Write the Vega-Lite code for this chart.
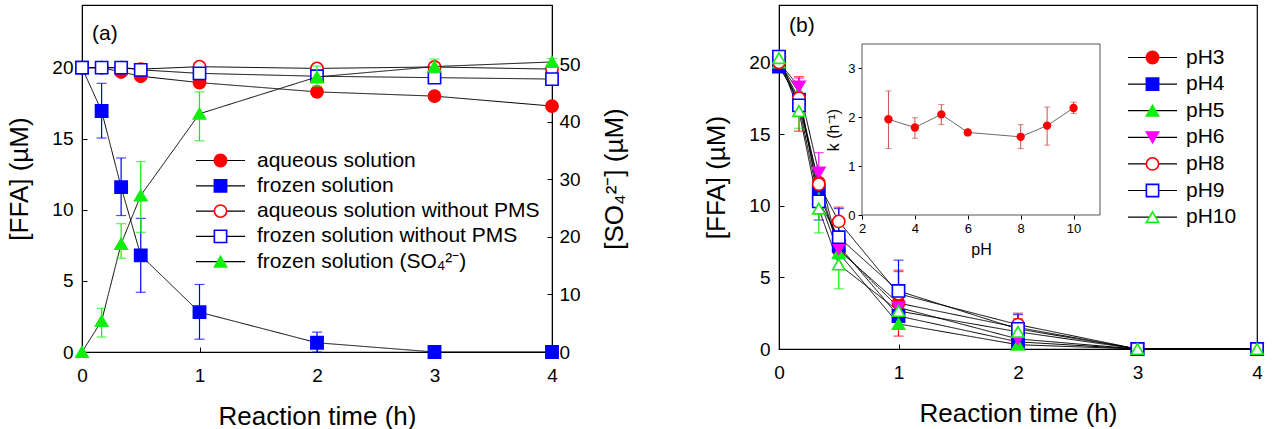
{
  "$schema": "https://vega.github.io/schema/vega-lite/v6.json",
  "background": "white",
  "padding": {"left": 6, "top": 4, "right": 5, "bottom": 5},
  "autosize": {"type": "pad"},
  "config": {
    "font": "Liberation Sans",
    "view": {"stroke": "black", "strokeWidth": 1.2},
    "axis": {"grid": false, "domainColor": "black", "tickColor": "black", "labelColor": "black", "titleColor": "black", "labelFontSize": 19, "titleFontSize": 26, "titleFontWeight": "normal", "tickSize": -5, "labelPadding": 14, "titlePadding": 19, "labelFlush": false},
    "axisX": {"labelPadding": 19, "titlePadding": 18},
    "title": {"fontWeight": "normal", "fontSize": 21, "color": "black"},
    "legend": {"labelFont": "Liberation Sans", "labelColor": "black", "symbolOpacity": 1}
  },
  "datasets": {
    "a_ffa": [
      {"s": "aqueous solution", "o": 1, "t": 0, "y": 20.0},
      {"s": "aqueous solution", "o": 1, "t": 0.167, "y": 20.0},
      {"s": "aqueous solution", "o": 1, "t": 0.333, "y": 19.7},
      {"s": "aqueous solution", "o": 1, "t": 0.5, "y": 19.4},
      {"s": "aqueous solution", "o": 1, "t": 1, "y": 18.95},
      {"s": "aqueous solution", "o": 1, "t": 2, "y": 18.3},
      {"s": "aqueous solution", "o": 1, "t": 3, "y": 18.0},
      {"s": "aqueous solution", "o": 1, "t": 4, "y": 17.3},
      {"s": "frozen solution", "o": 2, "t": 0, "y": 20.0},
      {"s": "frozen solution", "o": 2, "t": 0.167, "y": 16.95, "lo": 15.05, "hi": 18.9},
      {"s": "frozen solution", "o": 2, "t": 0.333, "y": 11.6, "lo": 9.6, "hi": 13.65},
      {"s": "frozen solution", "o": 2, "t": 0.5, "y": 6.8, "lo": 4.2, "hi": 9.4},
      {"s": "frozen solution", "o": 2, "t": 1, "y": 2.8, "lo": 0.9, "hi": 4.75},
      {"s": "frozen solution", "o": 2, "t": 2, "y": 0.65, "lo": 0.0, "hi": 1.4},
      {"s": "frozen solution", "o": 2, "t": 3, "y": 0},
      {"s": "frozen solution", "o": 2, "t": 4, "y": 0},
      {"s": "aqueous solution without PMS", "o": 3, "t": 0, "y": 20.0},
      {"s": "aqueous solution without PMS", "o": 3, "t": 0.167, "y": 20.0},
      {"s": "aqueous solution without PMS", "o": 3, "t": 0.333, "y": 20.0},
      {"s": "aqueous solution without PMS", "o": 3, "t": 0.5, "y": 19.9},
      {"s": "aqueous solution without PMS", "o": 3, "t": 1, "y": 20.07},
      {"s": "aqueous solution without PMS", "o": 3, "t": 2, "y": 19.95},
      {"s": "aqueous solution without PMS", "o": 3, "t": 3, "y": 20.05},
      {"s": "aqueous solution without PMS", "o": 3, "t": 4, "y": 19.9},
      {"s": "frozen solution without PMS", "o": 4, "t": 0, "y": 20.0},
      {"s": "frozen solution without PMS", "o": 4, "t": 0.167, "y": 20.0},
      {"s": "frozen solution without PMS", "o": 4, "t": 0.333, "y": 20.0},
      {"s": "frozen solution without PMS", "o": 4, "t": 0.5, "y": 19.85},
      {"s": "frozen solution without PMS", "o": 4, "t": 1, "y": 19.6},
      {"s": "frozen solution without PMS", "o": 4, "t": 2, "y": 19.4},
      {"s": "frozen solution without PMS", "o": 4, "t": 3, "y": 19.3},
      {"s": "frozen solution without PMS", "o": 4, "t": 4, "y": 19.2}
    ],
    "a_so4": [
      {"s": "frozen solution (SO₄²⁻)", "o": 5, "t": 0, "y": 0},
      {"s": "frozen solution (SO₄²⁻)", "o": 5, "t": 0.167, "y": 5.4, "lo": 2.6, "hi": 7.6},
      {"s": "frozen solution (SO₄²⁻)", "o": 5, "t": 0.333, "y": 18.8, "lo": 16.3, "hi": 22.3},
      {"s": "frozen solution (SO₄²⁻)", "o": 5, "t": 0.5, "y": 27.2, "lo": 20.8, "hi": 33.1},
      {"s": "frozen solution (SO₄²⁻)", "o": 5, "t": 1, "y": 41.4, "lo": 36.7, "hi": 45.2},
      {"s": "frozen solution (SO₄²⁻)", "o": 5, "t": 2, "y": 47.8, "lo": 46.2, "hi": 49.7},
      {"s": "frozen solution (SO₄²⁻)", "o": 5, "t": 3, "y": 49.6, "lo": 48.5, "hi": 50.9},
      {"s": "frozen solution (SO₄²⁻)", "o": 5, "t": 4, "y": 50.4, "lo": 49.8, "hi": 51.0}
    ],
    "b": [
      {"p": "pH3", "q": 1, "t": 0, "y": 19.9},
      {"p": "pH3", "q": 1, "t": 0.167, "y": 17.1, "lo": 15.2, "hi": 19.0},
      {"p": "pH3", "q": 1, "t": 0.333, "y": 11.6, "lo": 10.6, "hi": 12.6},
      {"p": "pH3", "q": 1, "t": 0.5, "y": 6.9, "lo": 6.3, "hi": 7.5},
      {"p": "pH3", "q": 1, "t": 1, "y": 3.2, "lo": 0.9, "hi": 5.5},
      {"p": "pH3", "q": 1, "t": 2, "y": 1.5, "lo": 0.9, "hi": 2.1},
      {"p": "pH3", "q": 1, "t": 3, "y": 0},
      {"p": "pH3", "q": 1, "t": 4, "y": 0},
      {"p": "pH4", "q": 2, "t": 0, "y": 19.7},
      {"p": "pH4", "q": 2, "t": 0.167, "y": 17.4},
      {"p": "pH4", "q": 2, "t": 0.333, "y": 11.0},
      {"p": "pH4", "q": 2, "t": 0.5, "y": 7.2},
      {"p": "pH4", "q": 2, "t": 1, "y": 2.3},
      {"p": "pH4", "q": 2, "t": 2, "y": 0.5},
      {"p": "pH4", "q": 2, "t": 3, "y": 0},
      {"p": "pH4", "q": 2, "t": 4, "y": 0},
      {"p": "pH5", "q": 3, "t": 0, "y": 20.0},
      {"p": "pH5", "q": 3, "t": 0.167, "y": 17.9},
      {"p": "pH5", "q": 3, "t": 0.333, "y": 10.5},
      {"p": "pH5", "q": 3, "t": 0.5, "y": 6.7},
      {"p": "pH5", "q": 3, "t": 1, "y": 1.75},
      {"p": "pH5", "q": 3, "t": 2, "y": 0.3},
      {"p": "pH5", "q": 3, "t": 3, "y": 0},
      {"p": "pH5", "q": 3, "t": 4, "y": 0},
      {"p": "pH6", "q": 4, "t": 0, "y": 20.0},
      {"p": "pH6", "q": 4, "t": 0.167, "y": 18.3, "lo": 17.6, "hi": 18.9},
      {"p": "pH6", "q": 4, "t": 0.333, "y": 12.3, "lo": 11.0, "hi": 13.7},
      {"p": "pH6", "q": 4, "t": 0.5, "y": 7.0},
      {"p": "pH6", "q": 4, "t": 1, "y": 2.9},
      {"p": "pH6", "q": 4, "t": 2, "y": 0.7},
      {"p": "pH6", "q": 4, "t": 3, "y": 0},
      {"p": "pH6", "q": 4, "t": 4, "y": 0},
      {"p": "pH8", "q": 5, "t": 0, "y": 20.0},
      {"p": "pH8", "q": 5, "t": 0.167, "y": 17.5},
      {"p": "pH8", "q": 5, "t": 0.333, "y": 11.5},
      {"p": "pH8", "q": 5, "t": 0.5, "y": 8.9, "lo": 7.9, "hi": 9.9},
      {"p": "pH8", "q": 5, "t": 1, "y": 3.85, "lo": 2.3, "hi": 5.4},
      {"p": "pH8", "q": 5, "t": 2, "y": 1.7, "lo": 1.0, "hi": 2.5},
      {"p": "pH8", "q": 5, "t": 3, "y": 0},
      {"p": "pH8", "q": 5, "t": 4, "y": 0},
      {"p": "pH9", "q": 6, "t": 0, "y": 20.4},
      {"p": "pH9", "q": 6, "t": 0.167, "y": 17.0},
      {"p": "pH9", "q": 6, "t": 0.333, "y": 10.3, "lo": 9.0, "hi": 11.5},
      {"p": "pH9", "q": 6, "t": 0.5, "y": 7.8, "lo": 6.9, "hi": 9.8},
      {"p": "pH9", "q": 6, "t": 1, "y": 4.05, "lo": 1.9, "hi": 6.2},
      {"p": "pH9", "q": 6, "t": 2, "y": 1.4, "lo": 0.4, "hi": 2.4},
      {"p": "pH9", "q": 6, "t": 3, "y": 0},
      {"p": "pH9", "q": 6, "t": 4, "y": 0},
      {"p": "pH10", "q": 7, "t": 0, "y": 20.3},
      {"p": "pH10", "q": 7, "t": 0.167, "y": 16.6, "lo": 15.4, "hi": 17.8},
      {"p": "pH10", "q": 7, "t": 0.333, "y": 9.8, "lo": 8.1, "hi": 11.0},
      {"p": "pH10", "q": 7, "t": 0.5, "y": 5.9, "lo": 4.2, "hi": 7.6},
      {"p": "pH10", "q": 7, "t": 1, "y": 2.65},
      {"p": "pH10", "q": 7, "t": 2, "y": 1.2, "lo": 0.4, "hi": 2.0},
      {"p": "pH10", "q": 7, "t": 3, "y": 0},
      {"p": "pH10", "q": 7, "t": 4, "y": 0}
    ],
    "inset": [
      {"pH": 3, "k": 1.96, "lo": 1.36, "hi": 2.54},
      {"pH": 4, "k": 1.79, "lo": 1.57, "hi": 1.99},
      {"pH": 5, "k": 2.06, "lo": 1.85, "hi": 2.26},
      {"pH": 6, "k": 1.69},
      {"pH": 8, "k": 1.60, "lo": 1.36, "hi": 1.85},
      {"pH": 9, "k": 1.83, "lo": 1.43, "hi": 2.21},
      {"pH": 10, "k": 2.19, "lo": 2.08, "hi": 2.31}
    ]
  },
  "hconcat": [
    {
      "width": 470,
      "height": 347,
      "title": {"text": "(a)", "anchor": "start", "frame": "group", "offset": -39, "dx": 10},
      "layer": [
        {
          "data": {"name": "a_ffa"},
          "layer": [
            {
              "mark": {"type": "line", "color": "black", "strokeWidth": 1},
              "encoding": {
                "x": {"field": "t", "type": "quantitative", "scale": {"domain": [0, 4], "nice": false, "zero": false}, "axis": {"values": [0, 1, 2, 3, 4], "title": "Reaction time (h)", "format": "d"}},
                "y": {"field": "y", "type": "quantitative", "scale": {"domain": [0, 24.41], "nice": false}, "axis": {"values": [0, 5, 10, 15, 20], "title": "[FFA] (µM)"}},
                "strokeDash": {"field": "o", "type": "ordinal", "scale": {"range": [[1, 0], [1, 0], [1, 0], [1, 0], [1, 0]]}, "legend": {"orient": "none", "legendX": 128, "legendY": 145, "title": null, "symbolType": "M-3.5,0H3.5", "symbolSize": 196, "symbolStrokeColor": "black", "symbolFillColor": "transparent", "symbolStrokeWidth": 1.2, "labelFontSize": 21, "labelExpr": "' '", "rowPadding": 3.3, "padding": 0, "labelOffset": 0}}
              }
            },
            {
              "mark": {"type": "errorbar", "ticks": {"size": 10, "thickness": 1.2}, "thickness": 1.2},
              "encoding": {
                "x": {"field": "t", "type": "quantitative", "title": "Reaction time (h)"},
                "y": {"field": "lo", "type": "quantitative", "title": "[FFA] (µM)"},
                "y2": {"field": "hi"},
                "color": {"field": "s", "type": "nominal", "scale": {"domain": ["frozen solution (SO₄²⁻)", "frozen solution without PMS", "aqueous solution without PMS", "frozen solution", "aqueous solution"], "range": ["#11ee11", "#0000ff", "#ff0000", "#0000ff", "#ff0000"]}, "legend": null}
              }
            },
            {
              "mark": {"type": "point", "opacity": 1, "size": 150, "strokeWidth": 1.6},
              "encoding": {
                "x": {"field": "t", "type": "quantitative"},
                "y": {"field": "y", "type": "quantitative"},
                "stroke": {"field": "s", "type": "nominal", "scale": {"domain": ["aqueous solution", "frozen solution", "aqueous solution without PMS", "frozen solution without PMS", "frozen solution (SO₄²⁻)"], "range": ["#ff0000", "#0000ff", "#ff0000", "#0000ff", "#11ee11"]}, "legend": {"orient": "none", "legendX": 128, "legendY": 145, "title": null, "labelFontSize": 21, "symbolSize": 150, "symbolStrokeWidth": 1.6, "symbolOpacity": 1, "rowPadding": 3.3, "padding": 0, "labelOffset": 26, "labelLimit": 500}},
                "fill": {"field": "s", "type": "nominal", "scale": {"domain": ["aqueous solution", "frozen solution", "aqueous solution without PMS", "frozen solution without PMS", "frozen solution (SO₄²⁻)"], "range": ["#ff0000", "#0000ff", "#ffffff", "#ffffff", "#11ee11"]}, "legend": {"orient": "none", "legendX": 128, "legendY": 145, "title": null, "labelFontSize": 21, "symbolSize": 150, "symbolStrokeWidth": 1.6, "symbolOpacity": 1, "rowPadding": 3.3, "padding": 0, "labelOffset": 26, "labelLimit": 500}},
                "shape": {"field": "s", "type": "nominal", "scale": {"domain": ["aqueous solution", "frozen solution", "aqueous solution without PMS", "frozen solution without PMS", "frozen solution (SO₄²⁻)"], "range": ["circle", "square", "circle", "square", "triangle-up"]}, "legend": {"orient": "none", "legendX": 128, "legendY": 145, "title": null, "labelFontSize": 21, "symbolSize": 150, "symbolStrokeWidth": 1.6, "symbolOpacity": 1, "rowPadding": 3.3, "padding": 0, "labelOffset": 26, "labelLimit": 500}}
              }
            }
          ]
        },
        {
          "data": {"name": "a_so4"},
          "layer": [
            {
              "mark": {"type": "line", "color": "black", "strokeWidth": 1},
              "encoding": {
                "x": {"field": "t", "type": "quantitative"},
                "y": {"field": "y", "type": "quantitative", "scale": {"domain": [0, 60.3], "nice": false}, "axis": {"orient": "right", "values": [0, 10, 20, 30, 40, 50], "title": "[SO₄²⁻] (µM)", "titleAngle": 270, "labelAlign": "left", "labelPadding": 12, "titlePadding": 47}},
                "strokeDash": {"field": "o", "type": "ordinal"}
              }
            },
            {
              "mark": {"type": "errorbar", "ticks": {"size": 10, "thickness": 1.2}, "thickness": 1.2},
              "encoding": {
                "x": {"field": "t", "type": "quantitative"},
                "y": {"field": "lo", "type": "quantitative", "title": "[SO₄²⁻] (µM)"},
                "y2": {"field": "hi"},
                "color": {"field": "s", "type": "nominal", "legend": null}
              }
            },
            {
              "mark": {"type": "point", "opacity": 1, "size": 150, "strokeWidth": 1.6},
              "encoding": {
                "x": {"field": "t", "type": "quantitative"},
                "y": {"field": "y", "type": "quantitative"},
                "stroke": {"field": "s", "type": "nominal"},
                "fill": {"field": "s", "type": "nominal"},
                "shape": {"field": "s", "type": "nominal"}
              }
            }
          ]
        }
      ],
      "resolve": {"scale": {"y": "independent"}}
    },
    {
      "width": 478,
      "height": 344,
      "title": {"text": "(b)", "anchor": "start", "frame": "group", "offset": -31, "dx": 10},
      "layer": [
        {
          "data": {"name": "b"},
          "layer": [
            {
              "mark": {"type": "line", "color": "black", "strokeWidth": 1},
              "encoding": {
                "x": {"field": "t", "type": "quantitative", "scale": {"domain": [0, 4], "nice": false, "zero": false}, "axis": {"values": [0, 1, 2, 3, 4], "title": "Reaction time (h)", "format": "d"}},
                "y": {"field": "y", "type": "quantitative", "scale": {"domain": [0, 24], "nice": false}, "axis": {"values": [0, 5, 10, 15, 20], "title": "[FFA] (µM)"}},
                "strokeDash": {"field": "q", "type": "ordinal", "scale": {"range": [[1, 0], [1, 0], [1, 0], [1, 0], [1, 0], [1, 0], [1, 0]]}, "legend": {"orient": "none", "legendX": 363, "legendY": 42, "title": null, "symbolType": "M-3.5,0H3.5", "symbolSize": 196, "symbolStrokeColor": "black", "symbolFillColor": "transparent", "symbolStrokeWidth": 1.2, "labelFontSize": 21, "labelExpr": "' '", "rowPadding": 4.6, "padding": 0, "labelOffset": 0}}
              }
            },
            {
              "mark": {"type": "errorbar", "ticks": {"size": 10, "thickness": 1.2}, "thickness": 1.2},
              "encoding": {
                "x": {"field": "t", "type": "quantitative", "title": "Reaction time (h)"},
                "y": {"field": "lo", "type": "quantitative", "title": "[FFA] (µM)"},
                "y2": {"field": "hi"},
                "color": {"field": "p", "type": "nominal", "scale": {"domain": ["pH10", "pH9", "pH8", "pH6", "pH5", "pH4", "pH3"], "range": ["#11ee11", "#0000ff", "#ff0000", "#ff00ff", "#11ee11", "#0000ff", "#ff0000"]}, "legend": null}
              }
            },
            {
              "mark": {"type": "point", "opacity": 1, "size": 150, "strokeWidth": 1.6},
              "encoding": {
                "x": {"field": "t", "type": "quantitative"},
                "y": {"field": "y", "type": "quantitative"},
                "stroke": {"field": "p", "type": "nominal", "scale": {"domain": ["pH3", "pH4", "pH5", "pH6", "pH8", "pH9", "pH10"], "range": ["#ff0000", "#0000ff", "#11ee11", "#ff00ff", "#ff0000", "#0000ff", "#11ee11"]}, "legend": {"orient": "none", "legendX": 363, "legendY": 42, "title": null, "labelFontSize": 21, "symbolSize": 150, "symbolStrokeWidth": 1.6, "symbolOpacity": 1, "rowPadding": 4.6, "padding": 0, "labelOffset": 23}},
                "fill": {"field": "p", "type": "nominal", "scale": {"domain": ["pH3", "pH4", "pH5", "pH6", "pH8", "pH9", "pH10"], "range": ["#ff0000", "#0000ff", "#11ee11", "#ff00ff", "#ffffff", "#ffffff", "#ffffff"]}, "legend": {"orient": "none", "legendX": 363, "legendY": 42, "title": null, "labelFontSize": 21, "symbolSize": 150, "symbolStrokeWidth": 1.6, "symbolOpacity": 1, "rowPadding": 4.6, "padding": 0, "labelOffset": 23}},
                "shape": {"field": "p", "type": "nominal", "scale": {"domain": ["pH3", "pH4", "pH5", "pH6", "pH8", "pH9", "pH10"], "range": ["circle", "square", "triangle-up", "triangle-down", "circle", "square", "triangle-up"]}, "legend": {"orient": "none", "legendX": 363, "legendY": 42, "title": null, "labelFontSize": 21, "symbolSize": 150, "symbolStrokeWidth": 1.6, "symbolOpacity": 1, "rowPadding": 4.6, "padding": 0, "labelOffset": 23}}
              }
            }
          ]
        },
        {
          "layer": [
            {
              "data": {"values": [{}]},
              "mark": {"type": "rect", "fill": "white", "stroke": "#555555", "strokeWidth": 1},
              "encoding": {
                "x": {"datum": 2, "type": "quantitative", "title": "pH"},
                "x2": {"datum": 11},
                "y": {"datum": 0, "type": "quantitative", "title": "k (h⁻¹)"},
                "y2": {"datum": 3.5}
              }
            },
            {
              "data": {"name": "inset"},
              "mark": {"type": "errorbar", "ticks": {"size": 6, "thickness": 1}, "thickness": 1, "color": "#c8504f"},
              "encoding": {
                "x": {"field": "pH", "type": "quantitative", "title": "pH"},
                "y": {"field": "lo", "type": "quantitative", "title": "k (h⁻¹)"},
                "y2": {"field": "hi"}
              }
            },
            {
              "data": {"name": "inset"},
              "mark": {"type": "line", "color": "#444444", "strokeWidth": 0.8},
              "encoding": {
                "x": {"field": "pH", "type": "quantitative", "title": "pH"},
                "y": {"field": "k", "type": "quantitative", "title": "k (h⁻¹)"}
              }
            },
            {
              "data": {"name": "inset"},
              "mark": {"type": "circle", "color": "#ff0000", "opacity": 1, "size": 70},
              "encoding": {
                "x": {"field": "pH", "type": "quantitative", "scale": {"domain": [2, 11], "range": [83, 321], "nice": false, "zero": false}, "axis": {"orient": "bottom", "offset": -134, "values": [2, 4, 6, 8, 10], "format": "d", "title": "pH", "labelFontSize": 13, "titleFontSize": 16, "tickSize": 4, "domain": false, "labelPadding": 3, "titlePadding": 6}},
                "y": {"field": "k", "type": "quantitative", "scale": {"domain": [0, 3.5], "range": [210, 39], "nice": false}, "axis": {"orient": "left", "offset": -83, "values": [0, 1, 2, 3], "format": "d", "title": "k (h⁻¹)", "labelFontSize": 13, "titleFontSize": 16, "tickSize": 4, "domain": false, "labelPadding": 3, "titlePadding": 6}}
              }
            }
          ]
        }
      ],
      "resolve": {"scale": {"x": "independent", "y": "independent"}}
    }
  ],
  "spacing": 227,
  "bounds": "flush",
  "resolve": {
    "scale": {"color": "independent", "stroke": "independent", "fill": "independent", "shape": "independent", "strokeDash": "independent"},
    "legend": {"color": "independent", "stroke": "independent", "fill": "independent", "shape": "independent", "strokeDash": "independent"}
  }
}
